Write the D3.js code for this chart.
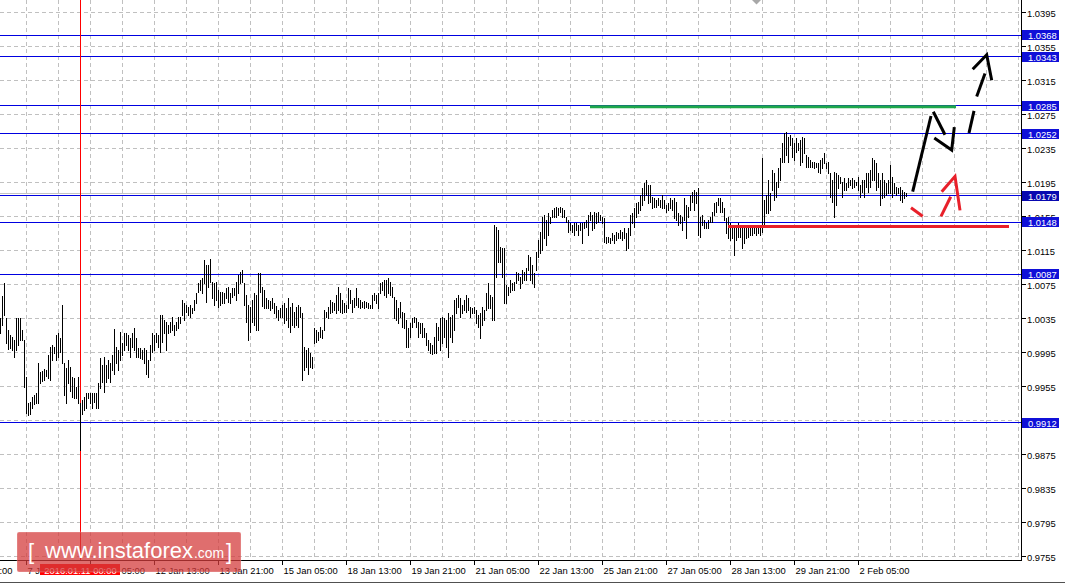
<!DOCTYPE html>
<html><head><meta charset="utf-8">
<script src="https://cdn.jsdelivr.net/npm/d3@7"></script>
<style>
html,body{margin:0;padding:0;background:#fff;}
svg{display:block;}
text{font-family:"Liberation Sans",Arial,sans-serif;}
</style></head><body>
<svg id="c" width="1065" height="584"></svg>
<script>
// ---- DATA (H1 bars) ----
const highs = [
1.0035,1.0061,1.0077,1.0035,1.0021,1.0015,1.0013,1.0010,1.0035,1.0035,
1.0035,1.0021,1.0010,0.9966,0.9935,0.9936,0.9943,0.9945,0.9947,0.9982,
0.9972,0.9973,0.9975,0.9974,0.9992,1.0001,1.0004,1.0001,1.0015,1.0018,
1.0012,1.0051,0.9983,0.9976,0.9986,0.9978,0.9966,0.9965,0.9954,0.9966,
0.9935,0.9939,0.9942,0.9947,0.9947,0.9947,0.9947,0.9947,0.9947,0.9959,
0.9988,0.9980,0.9989,0.9980,0.9986,0.9982,0.9992,1.0022,1.0001,0.9998,
1.0019,1.0006,1.0018,1.0018,1.0015,1.0012,1.0018,1.0024,1.0012,1.0000,
1.0000,0.9998,1.0000,0.9998,0.9986,1.0004,1.0018,1.0015,1.0018,1.0015,
1.0039,1.0039,1.0033,1.0031,1.0027,1.0031,1.0037,1.0027,1.0031,1.0037,
1.0037,1.0057,1.0053,1.0051,1.0048,1.0051,1.0047,1.0057,1.0065,1.0077,
1.0080,1.0082,1.0104,1.0098,1.0098,1.0105,1.0078,1.0077,1.0078,1.0068,
1.0066,1.0066,1.0065,1.0071,1.0072,1.0065,1.0071,1.0071,1.0078,1.0086,
1.0090,1.0092,1.0077,1.0062,1.0051,1.0048,1.0057,1.0065,1.0062,1.0088,
1.0088,1.0072,1.0068,1.0059,1.0057,1.0055,1.0059,1.0053,1.0050,1.0045,
1.0047,1.0051,1.0053,1.0047,1.0059,1.0048,1.0053,1.0042,1.0048,1.0051,
1.0048,1.0041,1.0001,0.9998,1.0000,0.9994,0.9989,1.0024,1.0021,1.0019,
1.0025,1.0021,1.0045,1.0042,1.0048,1.0057,1.0054,1.0053,1.0062,1.0072,
1.0065,1.0057,1.0053,1.0051,1.0071,1.0068,1.0057,1.0059,1.0071,1.0059,
1.0057,1.0054,1.0055,1.0054,1.0053,1.0051,1.0062,1.0065,1.0062,1.0065,
1.0077,1.0078,1.0080,1.0080,1.0082,1.0078,1.0072,1.0060,1.0057,1.0047,
1.0054,1.0042,1.0041,1.0033,1.0024,1.0030,1.0035,1.0037,1.0035,1.0031,
1.0030,1.0030,1.0024,1.0018,1.0010,1.0006,1.0004,1.0013,1.0030,1.0025,
1.0035,1.0037,1.0035,1.0033,1.0041,1.0037,1.0039,1.0057,1.0059,1.0062,
1.0059,1.0051,1.0057,1.0062,1.0059,1.0048,1.0047,1.0048,1.0045,1.0039,
1.0041,1.0048,1.0045,1.0065,1.0077,1.0062,1.0060,1.0145,1.0142,1.0139,
1.0119,1.0118,1.0118,1.0074,1.0072,1.0080,1.0077,1.0078,1.0090,1.0088,
1.0084,1.0092,1.0090,1.0094,1.0110,1.0107,1.0098,1.0088,1.0113,1.0127,
1.0137,1.0154,1.0157,1.0151,1.0159,1.0154,1.0162,1.0165,1.0166,1.0165,
1.0166,1.0165,1.0162,1.0154,1.0151,1.0147,1.0145,1.0147,1.0147,1.0145,
1.0147,1.0147,1.0148,1.0151,1.0157,1.0160,1.0157,1.0160,1.0159,1.0160,
1.0157,1.0154,1.0153,1.0131,1.0131,1.0130,1.0135,1.0133,1.0137,1.0135,
1.0139,1.0137,1.0141,1.0135,1.0141,1.0157,1.0159,1.0165,1.0171,1.0172,
1.0180,1.0188,1.0194,1.0198,1.0192,1.0192,1.0178,1.0177,1.0174,1.0177,
1.0174,1.0180,1.0174,1.0168,1.0171,1.0177,1.0174,1.0177,1.0172,1.0159,
1.0157,1.0154,1.0177,1.0168,1.0166,1.0180,1.0184,1.0186,1.0184,1.0188,
1.0154,1.0157,1.0151,1.0147,1.0151,1.0154,1.0160,1.0171,1.0172,1.0177,
1.0177,1.0172,1.0165,1.0153,1.0154,1.0147,1.0144,1.0141,1.0144,1.0147,
1.0142,1.0142,1.0141,1.0142,1.0141,1.0141,1.0141,1.0142,1.0142,1.0144,
1.0145,1.0224,1.0174,1.0180,1.0198,1.0182,1.0210,1.0206,1.0195,1.0212,
1.0224,1.0241,1.0253,1.0254,1.0248,1.0251,1.0247,1.0241,1.0247,1.0241,
1.0245,1.0248,1.0247,1.0227,1.0225,1.0221,1.0219,1.0219,1.0218,1.0218,
1.0221,1.0224,1.0230,1.0218,1.0219,1.0206,1.0198,1.0207,1.0206,1.0204,
1.0201,1.0195,1.0200,1.0194,1.0200,1.0198,1.0200,1.0198,1.0195,1.0201,
1.0192,1.0198,1.0198,1.0206,1.0206,1.0210,1.0224,1.0221,1.0218,1.0206,
1.0198,1.0206,1.0198,1.0194,1.0198,1.0215,1.0201,1.0194,1.0190,1.0188,
1.0190,1.0186,1.0184,1.0182];
const lows = [
1.0018,1.0027,1.0039,1.0006,0.9999,1.0000,0.9998,0.9989,0.9998,1.0004,
1.0010,1.0010,0.9954,0.9924,0.9921,0.9923,0.9930,0.9934,0.9935,0.9935,
0.9959,0.9961,0.9962,0.9967,0.9965,0.9962,0.9986,0.9994,0.9986,0.9989,
0.9995,0.9983,0.9945,0.9935,0.9959,0.9950,0.9942,0.9941,0.9941,0.9935,
0.9880,0.9923,0.9927,0.9930,0.9941,0.9935,0.9930,0.9936,0.9930,0.9930,
0.9953,0.9960,0.9948,0.9960,0.9965,0.9960,0.9974,0.9970,0.9982,0.9974,
0.9986,0.9992,0.9998,1.0004,0.9998,0.9989,1.0001,0.9998,0.9989,0.9989,
0.9988,0.9987,0.9983,0.9970,0.9966,0.9986,0.9995,0.9998,1.0007,1.0001,
0.9995,1.0007,1.0018,0.9998,1.0018,1.0019,1.0021,1.0015,1.0021,1.0024,
1.0030,1.0039,1.0033,1.0042,1.0039,1.0037,1.0041,1.0045,1.0053,1.0066,
1.0068,1.0065,1.0077,1.0054,1.0072,1.0078,1.0059,1.0051,1.0057,1.0048,
1.0051,1.0053,1.0053,1.0059,1.0054,1.0053,1.0060,1.0062,1.0057,1.0065,
1.0077,1.0078,1.0051,1.0031,1.0010,1.0019,1.0031,1.0027,1.0021,1.0021,
1.0066,1.0050,1.0047,1.0047,1.0047,1.0045,1.0047,1.0041,1.0037,1.0033,
1.0037,1.0037,1.0030,1.0033,1.0025,1.0019,1.0027,1.0025,1.0027,1.0025,
1.0037,0.9962,0.9974,0.9978,0.9970,0.9978,0.9976,1.0006,1.0007,1.0010,
1.0013,1.0012,1.0021,1.0037,1.0035,1.0041,1.0042,1.0045,1.0041,1.0045,
1.0042,1.0041,1.0042,1.0042,1.0047,1.0053,1.0042,1.0048,1.0051,1.0048,
1.0047,1.0048,1.0047,1.0048,1.0047,1.0047,1.0047,1.0057,1.0053,1.0047,
1.0065,1.0068,1.0062,1.0060,1.0065,1.0062,1.0060,1.0035,1.0033,1.0030,
1.0037,1.0025,1.0024,1.0001,1.0001,1.0013,1.0025,1.0031,1.0025,1.0013,
1.0018,1.0013,1.0013,1.0004,0.9998,0.9994,0.9993,0.9994,0.9994,1.0010,
0.9998,1.0006,1.0013,1.0001,0.9989,1.0013,1.0007,1.0021,1.0041,1.0048,
1.0037,1.0041,1.0045,1.0042,1.0045,1.0037,1.0041,1.0041,1.0030,1.0025,
1.0012,1.0027,1.0033,1.0045,1.0047,1.0047,1.0033,1.0033,1.0084,1.0101,
1.0101,1.0084,1.0053,1.0053,1.0062,1.0066,1.0068,1.0068,1.0077,1.0080,
1.0071,1.0077,1.0080,1.0080,1.0092,1.0080,1.0077,1.0072,1.0092,1.0107,
1.0112,1.0115,1.0130,1.0121,1.0133,1.0147,1.0154,1.0154,1.0154,1.0157,
1.0160,1.0154,1.0154,1.0148,1.0137,1.0139,1.0137,1.0133,1.0139,1.0133,
1.0139,1.0124,1.0141,1.0142,1.0133,1.0151,1.0139,1.0141,1.0147,1.0148,
1.0151,1.0147,1.0125,1.0124,1.0125,1.0124,1.0127,1.0124,1.0127,1.0130,
1.0130,1.0127,1.0130,1.0115,1.0118,1.0133,1.0147,1.0142,1.0154,1.0159,
1.0162,1.0168,1.0174,1.0180,1.0171,1.0172,1.0165,1.0166,1.0166,1.0168,
1.0166,1.0165,1.0165,1.0160,1.0162,1.0165,1.0162,1.0153,1.0151,1.0145,
1.0147,1.0139,1.0151,1.0130,1.0154,1.0162,1.0172,1.0162,1.0171,1.0133,
1.0131,1.0145,1.0141,1.0141,1.0141,1.0148,1.0148,1.0157,1.0160,1.0168,
1.0160,1.0160,1.0151,1.0135,1.0130,1.0127,1.0130,1.0110,1.0127,1.0131,
1.0131,1.0118,1.0124,1.0130,1.0131,1.0133,1.0133,1.0135,1.0133,1.0135,
1.0133,1.0137,1.0145,1.0159,1.0159,1.0162,1.0186,1.0174,1.0178,1.0190,
1.0198,1.0219,1.0219,1.0227,1.0219,1.0239,1.0225,1.0221,1.0231,1.0233,
1.0215,1.0219,1.0230,1.0213,1.0213,1.0213,1.0213,1.0212,1.0213,1.0207,
1.0206,1.0212,1.0218,1.0212,1.0206,1.0178,1.0172,1.0154,1.0168,1.0188,
1.0194,1.0178,1.0186,1.0186,1.0190,1.0192,1.0188,1.0190,1.0192,1.0186,
1.0178,1.0184,1.0178,1.0190,1.0184,1.0190,1.0198,1.0198,1.0186,1.0190,
1.0168,1.0177,1.0178,1.0180,1.0182,1.0182,1.0178,1.0182,1.0180,1.0182,
1.0174,1.0172,1.0177,1.0179];

const priceTicks = [0.9755,0.9795,0.9835,0.9875,0.9915,0.9955,0.9995,1.0035,1.0075,
                    1.0115,1.0155,1.0195,1.0235,1.0275,1.0315,1.0355,1.0395];
const priceTickLabels = ["0.9755","0.9795","0.9835","0.9875","0.9915","0.9955","0.9995","1.0035","1.0075",
                    "1.0115","1.0155","1.0195","1.0235","1.0275","1.0315","1.0355","1.0395"];
const levels = [1.0368,1.0343,1.0285,1.0252,1.0179,1.0148,1.0087,0.9912];
const levelLabels = ["1.0368","1.0343","1.0285","1.0252","1.0179","1.0148","1.0087","0.9912"];
const bidPrice = 1.0182;
const timeLabels = ["6 Jan 13:00","7 Jan 21:00","11 Jan 05:00","12 Jan 13:00","13 Jan 21:00","15 Jan 05:00",
  "18 Jan 13:00","19 Jan 21:00","21 Jan 05:00","22 Jan 13:00","25 Jan 21:00","27 Jan 05:00",
  "28 Jan 13:00","29 Jan 21:00","2 Feb 05:00"];
const timeLabelBars = [-19,13,45,77,109,141,173,205,237,269,301,333,365,397,429];
const crossBar = 40;
const crossLabel = "2016.01.11 00:00";
// hand-drawn annotations: [bar index, price]
const greenLine = [[294.75,1.0284],[477.75,1.0284]];
const redLine = [[363.75,1.0143],[504.25,1.0143]];
const blackStrokes = [
  [[456.1,1.0184],[465.25,1.0273]],
  [[466.4,1.0278],[472.25,1.0251]],
  [[466.9,1.0247],[475.6,1.0233],[476.9,1.0260]],
  [[484.25,1.0253],[486.75,1.0279]],
  [[488.1,1.0296],[492.25,1.0323]],
  [[486.1,1.0328],[493.1,1.0345],[495.6,1.0315]]
];
const redStrokes = [
  [[455.25,1.0165],[461.1,1.0155]],
  [[470.25,1.0155],[475.1,1.0178]],
  [[470.6,1.0184],[477.25,1.0202],[479.75,1.0162]]
];

// ---- DRAW ----
const plotR = 1021, plotB = 560;
const svg = d3.select('#c');
svg.append('rect').attr('width',1065).attr('height',584).attr('fill','#fff');
const x = d3.scaleLinear().domain([0,1]).range([0.5,2.5]);
const y = d3.scaleLinear().domain([0.9755,1.0395]).range([556.3,12.3]);
const snap = v => Math.floor(v)+0.5;

svg.append('defs').append('clipPath').attr('id','plot')
  .append('rect').attr('x',0).attr('y',0).attr('width',plotR).attr('height',plotB);
const plot = svg.append('g').attr('clip-path','url(#plot)');

// grid
plot.append('g').selectAll('line').data(priceTicks).join('line')
  .attr('x1',0).attr('x2',plotR)
  .attr('y1',d=>snap(y(d))).attr('y2',d=>snap(y(d)))
  .attr('stroke','#c0c0c0').attr('stroke-dasharray','4,3').attr('shape-rendering','crispEdges');
const vGridBars = d3.range(-3,33).map(k => timeLabelBars[1] + 16*k);
plot.append('g').selectAll('line').data(vGridBars).join('line')
  .attr('x1',d=>x(d)).attr('x2',d=>x(d)).attr('y1',0).attr('y2',plotB)
  .attr('stroke','#c0c0c0').attr('stroke-dasharray','4,3').attr('shape-rendering','crispEdges');

// bid line
plot.append('line').attr('x1',0).attr('x2',plotR)
  .attr('y1',snap(y(bidPrice))).attr('y2',snap(y(bidPrice)))
  .attr('stroke','#c4c4c4').attr('shape-rendering','crispEdges');

// level lines
plot.append('g').selectAll('line').data(levels).join('line')
  .attr('x1',0).attr('x2',plotR)
  .attr('y1',d=>snap(y(d))).attr('y2',d=>snap(y(d)))
  .attr('stroke','#0000e0').attr('shape-rendering','crispEdges');

// crosshair vertical
plot.append('line').attr('x1',x(crossBar)).attr('x2',x(crossBar)).attr('y1',0).attr('y2',plotB)
  .attr('stroke','#ff0000').attr('shape-rendering','crispEdges');

// bars
const bars = highs.map((h,i)=>({i, h, l: lows[i]}));
plot.append('g').selectAll('line').data(bars).join('line')
  .attr('x1',d=>x(d.i)).attr('x2',d=>x(d.i))
  .attr('y1',d=>Math.round(y(d.h))).attr('y2',d=>Math.round(y(d.l))+1)
  .attr('stroke','#000').attr('shape-rendering','crispEdges');

// annotations
const ln = d3.line().x(d=>x(d[0])).y(d=>y(d[1]));
plot.append('path').attr('d',ln(greenLine)).attr('stroke','#1ea84a').attr('stroke-width',3).attr('fill','none');
plot.append('path').attr('d',ln(redLine)).attr('stroke','#e8202a').attr('stroke-width',3).attr('fill','none');
plot.append('g').selectAll('path').data(blackStrokes).join('path')
  .attr('d',ln).attr('stroke','#000').attr('stroke-width',3).attr('fill','none')
  .attr('stroke-linejoin','miter');
plot.append('g').selectAll('path').data(redStrokes).join('path')
  .attr('d',ln).attr('stroke','#e8202a').attr('stroke-width',3).attr('fill','none')
  .attr('stroke-linejoin','miter');

// top shift marker
svg.append('path').attr('d','M752,0 L761,0 L756.5,4.5 Z').attr('fill','#a8a8a8');

// axes lines
svg.append('line').attr('x1',plotR+0.5).attr('x2',plotR+0.5).attr('y1',0).attr('y2',plotB+1)
  .attr('stroke','#000').attr('shape-rendering','crispEdges');
svg.append('line').attr('x1',0).attr('x2',plotR+1).attr('y1',plotB+0.5).attr('y2',plotB+0.5)
  .attr('stroke','#000').attr('shape-rendering','crispEdges');
svg.append('line').attr('x1',0).attr('x2',1065).attr('y1',582.5).attr('y2',582.5)
  .attr('stroke','#505050').attr('shape-rendering','crispEdges');

// price axis ticks & labels
const pa = svg.append('g');
pa.selectAll('line').data(priceTicks).join('line')
  .attr('x1',plotR+1).attr('x2',plotR+5).attr('y1',d=>snap(y(d))).attr('y2',d=>snap(y(d)))
  .attr('stroke','#000').attr('shape-rendering','crispEdges');
pa.selectAll('text').data(priceTicks).join('text')
  .attr('x',1027).attr('y',d=>y(d)+4.6)
  .attr('font-size','9.4px').attr('fill','#000')
  .text((d,i)=>priceTickLabels[i]);

// level label boxes
const lb = svg.append('g').selectAll('g').data(levels).join('g');
lb.append('rect').attr('x',1022).attr('y',d=>Math.round(y(d))-5).attr('width',37).attr('height',10)
  .attr('fill',(d,i)=> levelLabels[i]==="1.0179" ? '#0808b0' : '#1010d8');
lb.append('text').attr('x',1028).attr('y',d=>Math.round(y(d))+4)
  .attr('font-size','9.4px').attr('fill','#fff').text((d,i)=>levelLabels[i]);

// time axis
const ta = svg.append('g');
ta.selectAll('line').data(timeLabelBars).join('line')
  .attr('x1',d=>x(d)).attr('x2',d=>x(d)).attr('y1',plotB+1).attr('y2',plotB+5)
  .attr('stroke','#000').attr('shape-rendering','crispEdges');
ta.selectAll('text').data(timeLabelBars).join('text')
  .attr('x',d=>x(d)+1).attr('y',574)
  .attr('font-size','9.4px').attr('fill','#000')
  .text((d,i)=>timeLabels[i]);

// crosshair time label
svg.append('rect').attr('x',x(crossBar)-40.5).attr('y',564).attr('width',80).attr('height',11).attr('fill','#ff0000');
svg.append('text').attr('x',x(crossBar)).attr('y',573.5).attr('text-anchor','middle')
  .attr('font-size','9.4px').attr('fill','#fff').text(crossLabel);

// watermark
const wm = svg.append('g');
wm.append('rect').attr('x',17).attr('y',532).attr('width',224).attr('height',40).attr('rx',2)
  .attr('fill','#d43c3c').attr('fill-opacity',0.74).attr('stroke','#ffffff').attr('stroke-opacity',0.25);
wm.append('text').attr('x',28).attr('y',559).attr('font-size','22px').attr('fill','#fff').text('[');
wm.append('text').attr('x',45).attr('y',558).attr('font-size','22px').attr('fill','#fff')
  .attr('textLength',148).attr('lengthAdjust','spacingAndGlyphs').text('www.instaforex');
wm.append('text').attr('x',194).attr('y',558).attr('font-size','14.5px').attr('fill','#fff')
  .attr('textLength',30).attr('lengthAdjust','spacingAndGlyphs').text('.com');
wm.append('text').attr('x',226).attr('y',559).attr('font-size','22px').attr('fill','#fff').text(']');
</script>
</body></html>
